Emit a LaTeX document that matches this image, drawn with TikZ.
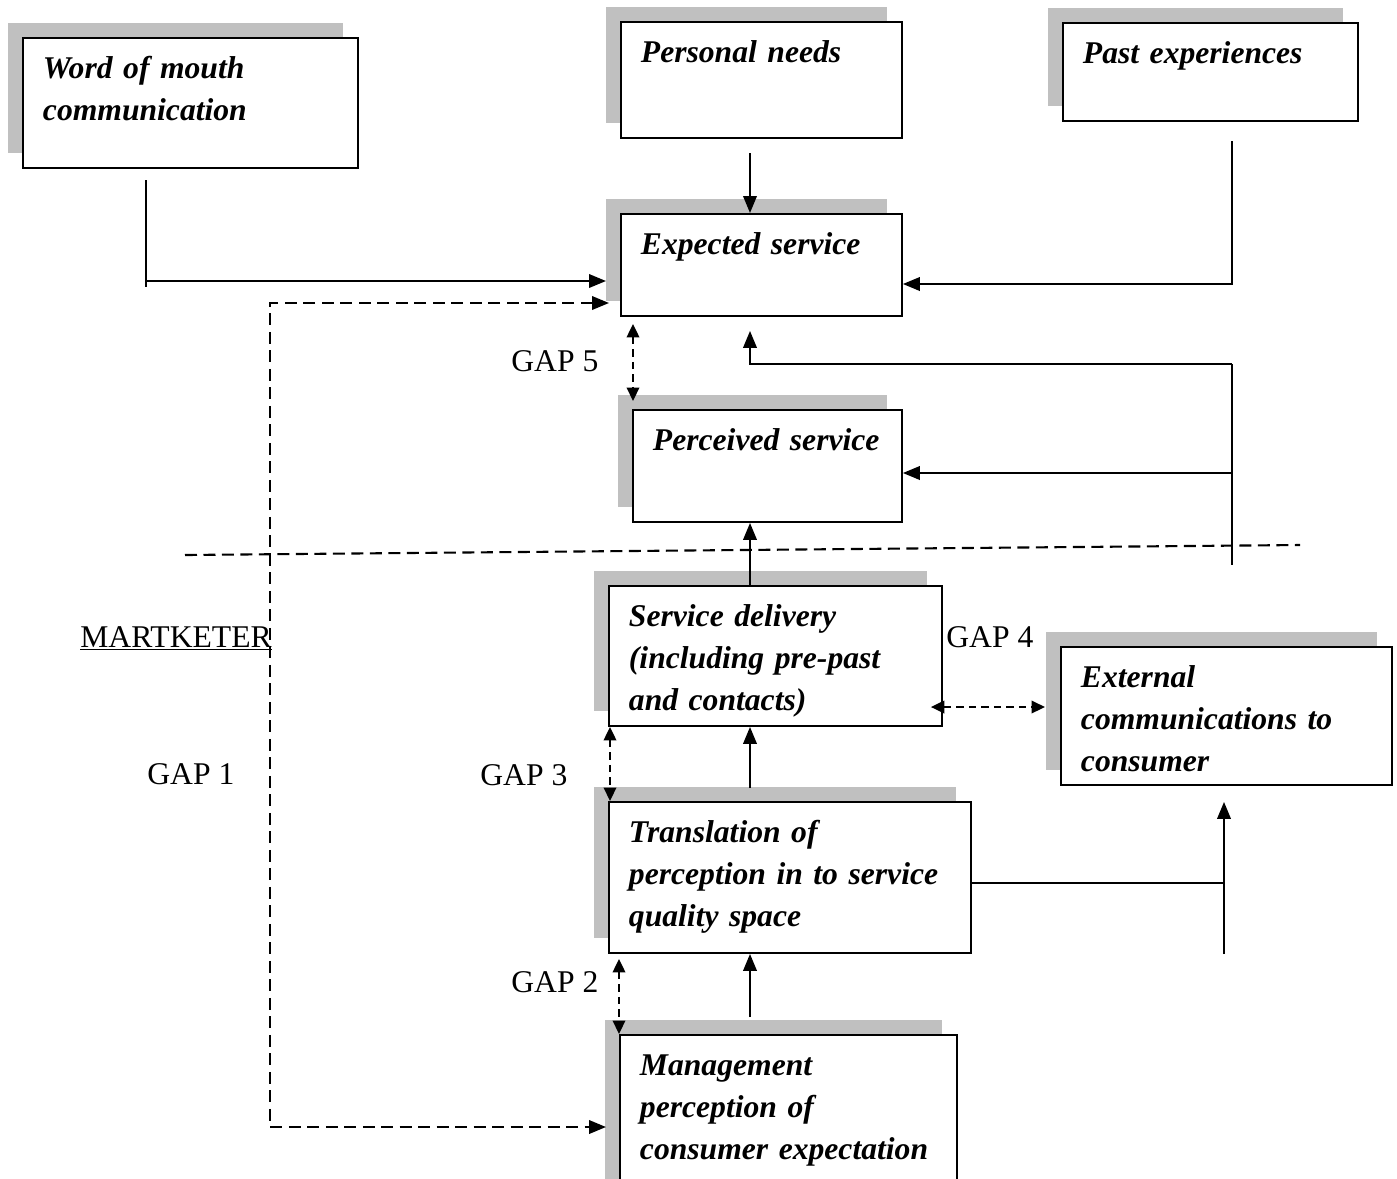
\documentclass[tikz,border=0pt]{standalone}
\usepackage{fontspec}
\setmainfont{Liberation Serif}
\usepackage{tikz}
\usetikzlibrary{arrows.meta,shadows}

\definecolor{shadowgray}{HTML}{C0C0C0}
\tikzset{
  box/.style={draw, line width=1.1pt, fill=white, anchor=north west, align=left,
    inner xsep=0.4cm, inner ysep=0pt, text height=0.82cm,
    font=\fontsize{18}{23.8}\selectfont\bfseries\itshape,
    general shadow={fill=shadowgray, shadow xshift=-0.3cm, shadow yshift=0.3cm}},
  lbl/.style={anchor=base west, inner sep=0pt, font=\fontsize{18}{23.8}\selectfont},
  link/.style={line width=1.2pt},
  arr/.style={line width=1.2pt, ->},
  bound/.style={line width=1.2pt, dash pattern=on 0.24cm off 0.13cm},
  gaparr/.style={line width=1.2pt, dash pattern=on 0.15cm off 0.1cm,
    {Triangle[length=0.27cm,width=0.25cm]}-{Triangle[length=0.27cm,width=0.25cm]}}
}

\begin{document}
\begin{tikzpicture}[x=0.02cm, y=-0.02cm, >={Triangle[length=0.34cm,width=0.27cm]}]
\useasboundingbox (0,0) rectangle (1397,1178);
\clip (0,0) rectangle (1397,1178);

% customer side
\node[box, text width=5.90cm, text depth=1.78cm] (word) at (22,37) {Word of mouth\\communication};
\node[box, text width=4.82cm, text depth=1.50cm] (pers) at (620,21) {Personal needs};
\node[box, text width=5.10cm, text depth=1.14cm] (past) at (1062,22) {Past experiences};
\node[box, text width=4.82cm, text depth=1.22cm] (exp) at (620,213) {Expected service};
\node[box, text width=4.58cm, text depth=1.42cm] (perc) at (632,409) {Perceived service};

% marketer side
\node[box, text width=5.86cm, text depth=1.98cm] (deliv) at (608,585) {Service delivery\\(including pre-past\\and contacts)};
\node[box, text width=5.82cm, text depth=1.94cm] (ext) at (1060,646) {External\\communications to\\consumer};
\node[box, text width=6.44cm, text depth=2.20cm] (trans) at (608,801) {Translation of\\perception in to service\\quality space};
\node[box, text width=5.94cm, text depth=2.38cm] (mgmt) at (619,1034) {Management\\perception of\\consumer expectation};

\node[lbl] (gap1) at (147,784) {GAP 1};
\node[lbl] (gap2) at (511,992) {GAP 2};
\node[lbl] (gap3) at (480,785) {GAP 3};
\node[lbl] (gap4) at (946,647) {GAP 4};
\node[lbl] (gap5) at (511,371) {GAP 5};
\node[lbl] (mkt) at (80,647) {\underline{MARTKETER}};

\coordinate (mid) at (750,0);
\coordinate (wom-a) at (146,180);
\coordinate (wom-b) at (146,287);
\coordinate (pn-a) at (750,153);
\coordinate (pe-a) at (1232,141);
\coordinate (fb-a) at (1232,364);
\coordinate (fb-b) at (1232,565);
\coordinate (tc-a) at (1224,954);
\coordinate (g1) at (270,715);
\coordinate (sep-l) at (185,555);
\coordinate (sep-r) at (1300,545);

% into expected service
\draw[link] (wom-a) -- (wom-b);
\draw[arr, shorten >=0.28cm] (wom-a |- 0,281) -- (exp.west |- 0,281);
\draw[arr] (pn-a) -- (pn-a |- exp.north);
\draw[arr] (pe-a) |- (exp.east |- 0,284);
\draw[link] (fb-a) -- (fb-b);
\draw[arr, shorten >=0.28cm] (fb-a) -| (mid |- exp.south);
\draw[arr] (fb-a |- 0,473) -- (perc.east |- 0,473);

\draw[bound] (sep-l) -- (sep-r);
\draw[bound, <->, shorten <=0.22cm, shorten >=0.26cm] (exp.west |- 0,303) -| (g1) |- (mgmt.west |- 0,1127);

% chain
\draw[arr] (mid |- deliv.north) -- (mid |- perc.south);
\draw[arr, shorten <=0.26cm] (mid |- trans.north) -- (mid |- deliv.south);
\draw[arr, shorten <=0.34cm] (mid |- mgmt.north) -- (mid |- trans.south);
\draw[link] (trans.east |- 0,883) -- (tc-a |- 0,883);
\draw[arr, shorten >=0.32cm] (tc-a) -- (tc-a |- ext.south);

% gaps
\draw[gaparr, shorten <=0.14cm, shorten >=0.16cm] (633,0 |- exp.south) -- (633,0 |- perc.north);
\draw[gaparr, shorten <=-0.24cm, shorten >=0.3cm] (deliv.east |- 0,707) -- (ext.west |- 0,707);
\draw[gaparr] (610,0 |- deliv.south) -- (610,0 |- trans.north);
\draw[gaparr, shorten <=0.1cm] (619,0 |- trans.south) -- (619,0 |- mgmt.north);
\end{tikzpicture}
\end{document}
